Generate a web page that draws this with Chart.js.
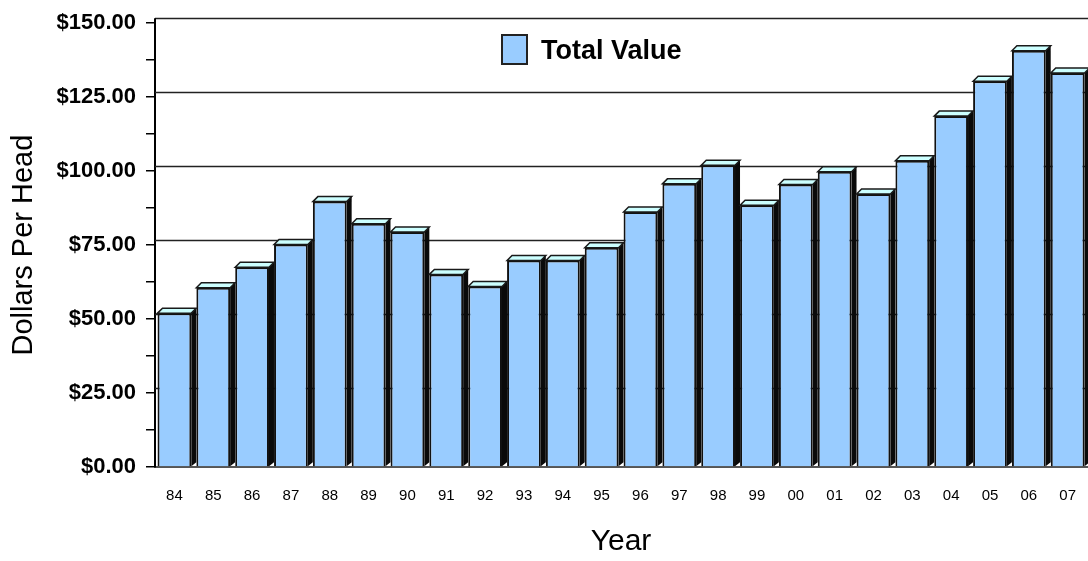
<!DOCTYPE html>
<html>
<head>
<meta charset="utf-8">
<title>Dollars Per Head</title>
<script src="https://cdn.jsdelivr.net/npm/chart.js@4.4.1/dist/chart.umd.min.js"></script>
<style>
  html, body { margin: 0; padding: 0; background: #fff; overflow: hidden; }
  #wrap { width: 1088px; height: 561px; overflow: hidden; }
  canvas { display: block; }
</style>
</head>
<body>
<div id="wrap"><canvas id="chart" width="1096" height="561"></canvas></div>
<script>
// Year labels (two-digit) and total value per head, in dollars
const years = ['84','85','86','87','88','89','90','91','92','93','94','95',
               '96','97','98','99','00','01','02','03','04','05','06','07'];
const totalValue = [52.0, 60.6, 67.5, 75.2, 89.7, 82.2, 79.4, 65.1, 61.0, 69.8, 69.8, 74.1,
                    86.2, 95.7, 102.0, 88.5, 95.5, 99.8, 92.3, 103.5, 118.6, 130.4, 140.7, 133.2];
const seriesName = 'Total Value';
const yLabelSteps = [0, 25, 50, 75, 100, 125, 150];

const FONT = "'Liberation Sans', Arial, sans-serif";
const DEPTH = 5;

// Back-wall grid lines, set back by the bar depth
const backWall = {
  id: 'backWall',
  beforeDatasetsDraw(chart) {
    const { ctx, chartArea, scales } = chart;
    const y = scales.y;
    ctx.save();
    ctx.strokeStyle = '#222';
    ctx.lineWidth = 1.5;
    yLabelSteps.forEach(v => {
      if (v === 0) return;
      const py = Math.round(y.getPixelForValue(v) - DEPTH) + 0.5;
      ctx.beginPath();
      ctx.moveTo(chartArea.left, py);
      ctx.lineTo(chartArea.right + 10, py);
      ctx.stroke();
    });
    // wall edge above the axis top
    ctx.strokeStyle = '#000';
    ctx.lineWidth = 2;
    ctx.beginPath();
    ctx.moveTo(chartArea.left, chartArea.top - DEPTH);
    ctx.lineTo(chartArea.left, chartArea.top + 1);
    ctx.stroke();
    ctx.restore();
  }
};

// Top and side faces that give each bar its depth
const barDepth = {
  id: 'barDepth',
  afterDatasetsDraw(chart) {
    const { ctx } = chart;
    const meta = chart.getDatasetMeta(0);
    ctx.save();
    ctx.lineJoin = 'miter';
    meta.data.forEach(bar => {
      const { x, y, base, width } = bar.getProps(['x', 'y', 'base', 'width'], true);
      const l = x - width / 2, r = x + width / 2;
      // side face
      ctx.beginPath();
      ctx.moveTo(r, y);
      ctx.lineTo(r + DEPTH, y - DEPTH);
      ctx.lineTo(r + DEPTH, base - DEPTH + 1);
      ctx.lineTo(r, base);
      ctx.closePath();
      ctx.fillStyle = '#0a0a0a';
      ctx.fill();
      // top face
      ctx.beginPath();
      ctx.moveTo(l, y);
      ctx.lineTo(l + DEPTH, y - DEPTH);
      ctx.lineTo(r + DEPTH, y - DEPTH);
      ctx.lineTo(r, y);
      ctx.closePath();
      ctx.fillStyle = '#ccffff';
      ctx.fill();
      ctx.strokeStyle = '#1a1a1a';
      ctx.lineWidth = 1.5;
      ctx.stroke();
    });
    ctx.restore();
  }
};

// Legend swatch and label inside the plot
const legendBox = {
  id: 'legendBox',
  afterDraw(chart) {
    const { ctx } = chart;
    const label = chart.data.datasets[0].label;
    ctx.save();
    ctx.fillStyle = '#99ccff';
    ctx.fillRect(502, 35, 25, 29);
    ctx.strokeStyle = '#222';
    ctx.lineWidth = 2;
    ctx.strokeRect(502, 35, 25, 29);
    ctx.fillStyle = '#000';
    ctx.font = 'bold 27px ' + FONT;
    ctx.textBaseline = 'middle';
    ctx.textAlign = 'left';
    ctx.fillText(label, 541, 52);
    ctx.restore();
  }
};

new Chart(document.getElementById('chart'), {
  type: 'bar',
  data: {
    labels: years,
    datasets: [{
      label: seriesName,
      data: totalValue,
      backgroundColor: '#99ccff',
      borderColor: '#111',
      borderWidth: 2,
      borderSkipped: 'bottom',
      barPercentage: 0.87,
      categoryPercentage: 1.0
    }]
  },
  options: {
    responsive: false,
    animation: false,
    devicePixelRatio: 1,
    layout: { padding: { top: 20, left: 0, right: 0, bottom: 0 } },
    plugins: {
      legend: { display: false },
      tooltip: { enabled: false }
    },
    scales: {
      x: {
        offset: true,
        grid: { display: false, drawTicks: false },
        border: { display: true, color: '#555', width: 2 },
        ticks: { color: '#000', padding: 20, font: { family: FONT, size: 15 }, maxRotation: 0, autoSkip: false },
        title: { display: true, text: 'Year', color: '#000', font: { family: FONT, size: 30 }, padding: { top: 0, bottom: 1 } },
        afterFit(scale) { scale.height = 94; }
      },
      y: {
        min: 0,
        max: 150,
        ticks: {
          stepSize: 12.5,
          color: '#000',
          padding: 10,
          font: { family: FONT, size: 22, weight: 'bold' },
          callback: v => (yLabelSteps.includes(v) ? '$' + v.toFixed(2) : '')
        },
        grid: { drawOnChartArea: false, drawTicks: true, tickLength: 9, color: '#000', lineWidth: 1.5 },
        border: { display: true, color: '#000', width: 2 },
        title: { display: true, text: 'Dollars Per Head', color: '#000', font: { family: FONT, size: 29 }, padding: { top: 7, bottom: 0 } },
        afterFit(scale) { scale.width = 155; }
      }
    }
  },
  plugins: [backWall, barDepth, legendBox]
});
</script>
</body>
</html>
